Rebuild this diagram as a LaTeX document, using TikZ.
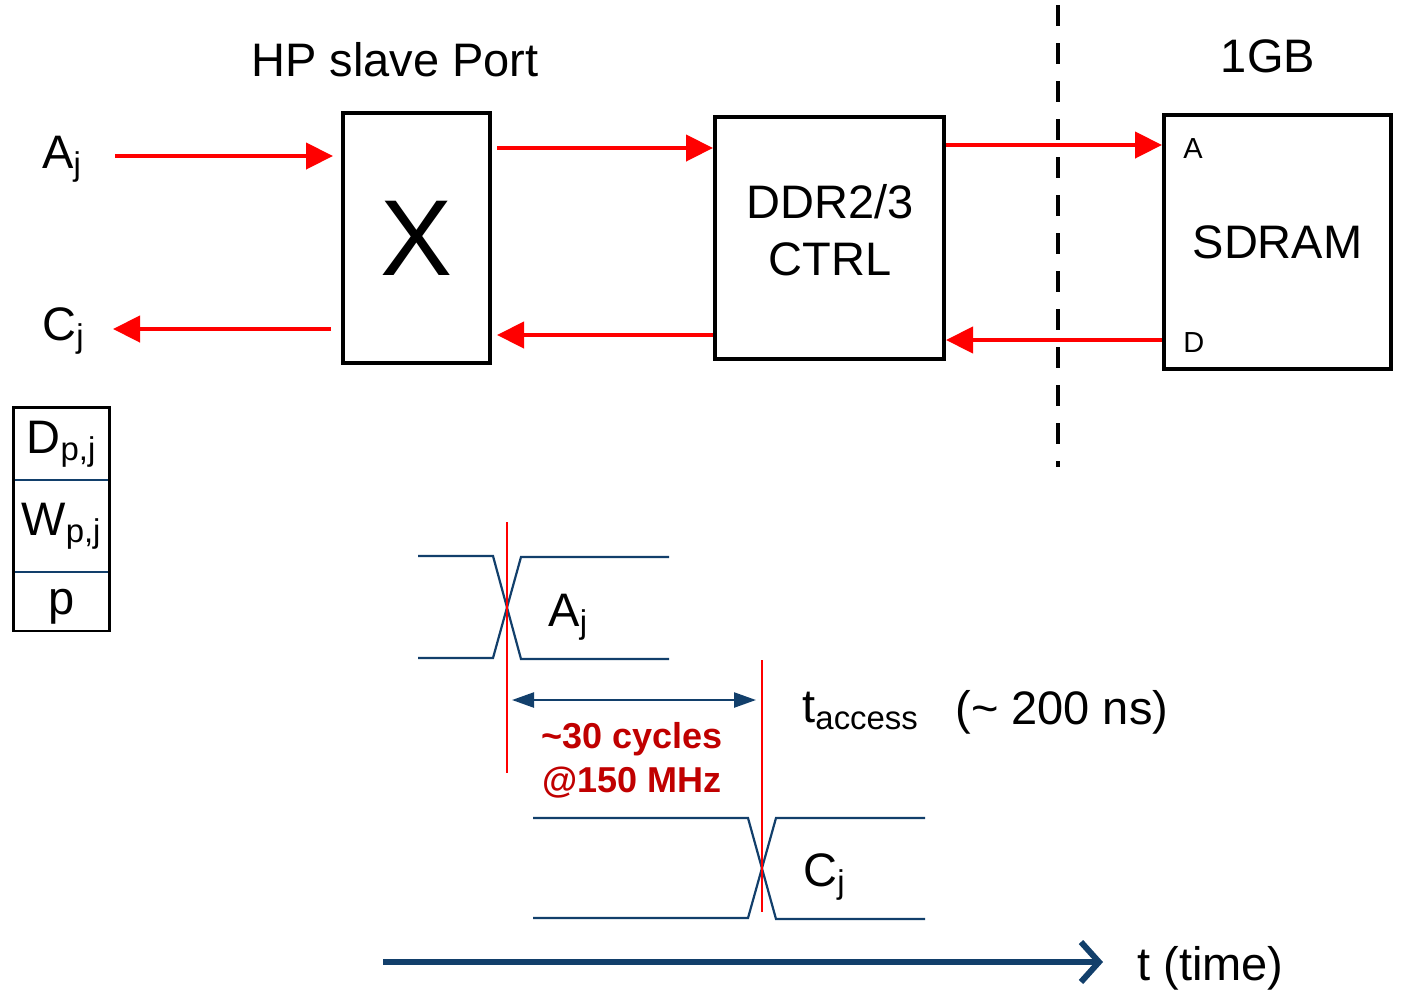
\documentclass[tikz,border=0pt]{standalone}
\usepackage{fontspec}
\setmainfont{Liberation Sans}
\usetikzlibrary{arrows.meta,positioning}

\definecolor{sigred}{HTML}{FF0000}
\definecolor{wavblue}{HTML}{123F6B}
\definecolor{cycred}{HTML}{C00000}

\newcommand{\bigtxt}{\fontsize{23.5}{28.5}\selectfont}
\newcommand{\smalltxt}{\fontsize{14.5}{17}\selectfont}
\newcommand{\cyctxt}{\fontsize{18}{22}\selectfont\bfseries}

\tikzset{
  blok/.style={draw=black,line width=2pt,inner sep=0pt},
  sig/.style={draw=sigred,line width=2.2pt,-{Triangle[length=13.5pt,width=13pt]}},
  cut/.style={draw=black,line width=2.2pt,dash pattern=on 10.5pt off 8.5pt},
  cell/.style={minimum width=47.5pt,inner sep=0pt},
  wave/.style={draw=wavblue,line width=1.1pt},
  redmarker/.style={draw=sigred,line width=0.8pt},
  span/.style={draw=wavblue,line width=1.2pt,{Triangle[length=11pt,width=7.5pt]}-{Triangle[length=11pt,width=7.5pt]}},
  timeax/.style={draw=wavblue,line width=3pt,-{Straight Barb[length=9pt,width=20pt]}}
}

\begin{document}
\begin{tikzpicture}[x=0.5pt,y=-0.5pt,every node/.style={inner sep=0pt,font=\bigtxt}]
  \useasboundingbox (0,0) rectangle (1407,992);

  % Blöcke
  \node[anchor=base] (hp) at (395,76) {HP slave Port};
  \node[anchor=base] (gb) at (1268,72) {1GB};
  \node[blok,minimum width=73.5pt,minimum height=125pt,font=\fontsize{54}{60}\selectfont] (xbox) at (416.5,238) {X};
  \node[blok,minimum width=114.5pt,minimum height=121pt] (ddr) at (829.5,238) {};
  \node[align=center] (ddrtxt) at (830,230) {DDR2/3\\CTRL};
  \node[blok,minimum width=113.5pt,minimum height=127pt] (sdram) at (1277.5,242) {SDRAM};
  \node[anchor=base west,font=\smalltxt] (pa) at (1183,158) {A};
  \node[anchor=base west,font=\smalltxt] (pd) at (1183,352) {D};

  % Signale
  \node[anchor=base west] (aj) at (42,168) {A\textsubscript{j}};
  \node[anchor=base west] (cj) at (42,340) {C\textsubscript{j}};
  \coordinate (ajin) at (115,156);
  \coordinate (cjtip) at (113,329);
  \coordinate (rowa) at (1100,145);
  \coordinate (rowd) at (1100,340);
  \draw[sig,shorten >=4pt] (ajin) -- (ajin -| xbox.west);
  \draw[sig,shorten <=5pt] (xbox.west |- cjtip) -- (cjtip);
  \draw[sig,shorten <=2.5pt] ([yshift=45pt]xbox.east) -- ([yshift=45pt]ddr.west);
  \draw[sig,shorten >=2.5pt] ([yshift=-48.5pt]ddr.west) -- ([yshift=-48.5pt]xbox.east);
  \draw[sig] (ddr.east |- rowa) -- (sdram.west |- rowa);
  \draw[sig] (sdram.west |- rowd) -- (ddr.east |- rowd);

  % Trennlinie
  \coordinate (cuttop) at (1058,5);
  \coordinate (cutbot) at (1058,467);
  \draw[cut] (cuttop) -- (cutbot);

  % Tabelle
  \node[cell,minimum height=36pt] (dpj) at (61.5,444) {D\textsubscript{p,j}};
  \node[cell,minimum height=45.5pt,below=0pt of dpj] (wpj) {W\textsubscript{p,j}};
  \node[cell,minimum height=29pt,text depth=0pt,below=0pt of wpj] (pp) {p};
  \draw[wavblue,line width=1pt] (dpj.south west) -- (dpj.south east);
  \draw[wavblue,line width=1pt] (wpj.south west) -- (wpj.south east);
  \draw[black,line width=1.2pt] (dpj.north west) rectangle (pp.south east);

  % Timing
  \draw[wave] (418,556) -- (493,556) -- (521,659) -- (669,659);
  \draw[wave] (418,658) -- (493,658) -- (521,557) -- (669,557);
  \draw[wave] (533,818) -- (748,818) -- (776,919) -- (925,919);
  \draw[wave] (533,918) -- (748,918) -- (776,818) -- (925,818);
  \coordinate (ma1) at (507,522);
  \coordinate (ma2) at (507,773);
  \coordinate (mc1) at (762,660);
  \coordinate (mc2) at (762,912);
  \draw[redmarker] (ma1) -- (ma2);
  \draw[redmarker] (mc1) -- (mc2);
  \coordinate (spanl) at (507,700);
  \draw[span,shorten <=2.5pt,shorten >=3pt] (spanl) -- (spanl -| mc1);

  \node[anchor=base west] (awave) at (548,626) {A\textsubscript{j}};
  \node[anchor=base west] (cwave) at (803,886) {C\textsubscript{j}};
  \node[anchor=base,font=\cyctxt,text=cycred] (cyc) at (632,748) {\textasciitilde 30 cycles};
  \node[anchor=base,font=\cyctxt,text=cycred] (mhz) at (632,792) {@150 MHz};
  \node[anchor=base west] (tacc) at (802,722) {t\textsubscript{access}};
  \node[anchor=base west] (tns) at (955,724) {(\textasciitilde{} 200 ns)};

  % Zeitachse
  \coordinate (tstart) at (383,962);
  \node[anchor=base west] (tlbl) at (1137,980) {t (time)};
  \draw[timeax,shorten >=17pt] (tstart) -- (tstart -| tlbl.west);
\end{tikzpicture}
\end{document}
